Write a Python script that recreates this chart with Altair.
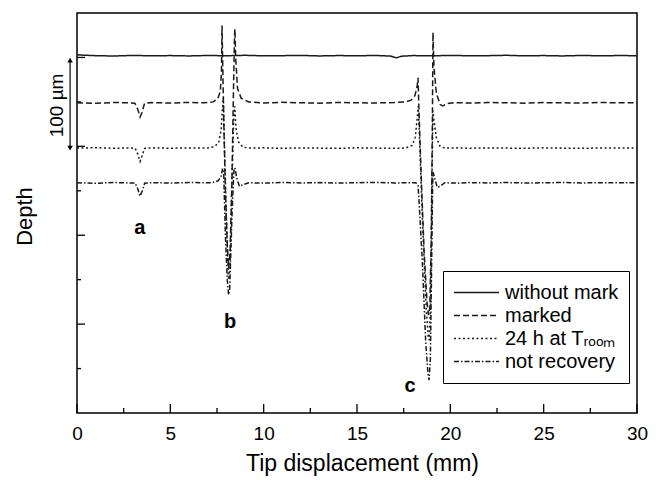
import altair as alt
import pandas as pd

FONT = "Liberation Sans"
INK = "#1a1a1a"

series_names = ["without mark", "marked", "24 h at Tᵣₒₒₘ", "not recovery"]

# ---- without mark (solid) ----
x_without = [0, 0.4, 1, 2, 3, 4, 5, 6, 7, 8, 9, 10, 11, 12, 13, 14, 15, 16, 16.8, 17.1, 17.4,
             18, 19, 20, 21, 22, 23, 24, 25, 26, 27, 28, 29, 30]
y_without = [403, 402.5, 402, 401.6, 402.3, 401.8, 402.1, 401.7, 402.2, 401.9, 402.4, 401.8, 402,
             402.3, 401.7, 402.1, 401.9, 402.2, 401.5, 399.6, 401.4, 402.1, 401.8, 402.3, 401.9,
             402, 402.4, 401.8, 402.1, 401.7, 402.2, 401.9, 402.1, 402]

# ---- marked (dashed) ----
x_marked = [0, 1.0, 2.0, 2.8, 3.1, 3.25, 3.38, 3.48, 3.62, 4.0, 5.0, 6.0, 6.8, 7.3, 7.55, 7.68,
            7.74, 7.77, 7.80, 7.86, 7.95, 8.05, 8.12, 8.2, 8.3, 8.38, 8.44, 8.46, 8.5, 8.6, 8.8,
            9.2, 10, 11, 12, 13, 14, 15, 16, 17, 17.6, 17.9, 18.1, 18.22, 18.27, 18.32, 18.45,
            18.6, 18.75, 18.83, 18.9, 18.98, 19.04, 19.07, 19.12, 19.25, 19.45, 19.6, 19.8, 20.2,
            21, 22, 23, 24, 25, 26, 27, 28, 29, 30]
y_marked = [349, 348.5, 349.3, 349, 348.6, 342, 333, 338, 348.5, 349.2, 348.7, 349.4, 349, 350,
            354, 362, 385, 436, 400, 330, 250, 190, 163, 180, 260, 360, 425, 432, 400, 365, 354,
            350, 348.8, 349.5, 349, 348.6, 349.3, 349, 348.8, 349.3, 350, 352, 357, 367, 377,
            340, 260, 180, 125, 110, 118, 200, 330, 428, 390, 360, 347, 345.5, 348, 349.2,
            348.7, 349.3, 349, 348.6, 349.2, 349, 348.7, 349.3, 349, 349]

# ---- 24 h at T_room (dotted) ----
x_24h = [0, 1, 2, 2.8, 3.12, 3.26, 3.38, 3.5, 3.62, 4, 5, 6, 7.0, 7.4, 7.6, 7.72, 7.8, 7.84,
         7.9, 8.0, 8.1, 8.14, 8.2, 8.3, 8.4, 8.45, 8.52, 8.65, 8.9, 9.3, 10, 11, 12, 13, 14, 15,
         16, 17, 17.6, 17.95, 18.12, 18.22, 18.28, 18.33, 18.5, 18.7, 18.82, 18.88, 18.95, 19.02,
         19.07, 19.12, 19.25, 19.45, 19.7, 20.5, 21, 22, 23, 24, 25, 26, 27, 28, 29, 30]
y_24h = [298, 298.4, 297.8, 298.2, 297.8, 291, 283, 290, 297.6, 298.3, 297.9, 298.2, 298, 300,
         305, 318, 345, 355, 300, 220, 155, 150, 170, 260, 335, 345, 320, 305, 299, 298, 298.3,
         297.8, 298.2, 298, 297.7, 298.3, 298, 297.9, 298, 301, 310, 330, 345, 320, 220, 120, 85,
         82, 130, 270, 340, 330, 310, 300, 298, 298.3, 297.9, 298.2, 298, 297.8, 298.3, 298,
         297.7, 298.2, 298, 298]

# ---- not recovery (dash-dot) ----
x_notrec = [0, 1, 2, 2.8, 3.12, 3.26, 3.38, 3.5, 3.62, 4, 5, 6, 7.2, 7.55, 7.72, 7.8, 7.86,
            7.95, 8.05, 8.12, 8.18, 8.3, 8.4, 8.46, 8.55, 8.7, 8.9, 9.2, 10, 11, 12, 13, 14, 15,
            16, 17, 17.8, 18.15, 18.27, 18.32, 18.5, 18.68, 18.8, 18.86, 18.93, 19.0, 19.05,
            19.08, 19.15, 19.3, 19.45, 19.7, 20.5, 21, 22, 23, 24, 25, 26, 27, 28, 29, 30]
y_notrec = [259, 258.5, 259.3, 258.8, 258.6, 252, 244, 250, 258.4, 259.2, 258.7, 259.3, 259, 261,
            266, 275, 270, 200, 150, 133, 140, 220, 272, 276, 265, 255, 257, 259, 258.6, 259.3,
            258.8, 259.2, 258.7, 259.1, 259.4, 258.8, 259, 259, 256, 240, 170, 80, 45, 37, 60,
            170, 255, 271, 265, 254, 255, 259, 258.6, 259.2, 258.8, 259.3, 258.7, 259, 259.3,
            258.8, 259.1, 258.9, 259]

# ---- tick positions ----
x_major_ticks = [0, 5, 10, 15, 20, 25, 30]
x_minor_ticks = [2.5, 7.5, 12.5, 17.5, 22.5, 27.5]
y_major_ticks = [100, 200, 300, 400]
y_minor_ticks = [50, 150, 250, 350]

# ---- annotations ----
label_text = ["a", "b", "c"]
label_x = [3.37, 8.2, 17.84]
label_y = [208, 102, 30]

scalebar_x = [-0.37]
scalebar_lo = [298]
scalebar_hi = [397]
scalebar_text = ["100 µm"]
scalebar_text_x = [-1.05]
scalebar_text_y = [346]

rows = []
for name, xs, ys in zip(series_names,
                        [x_without, x_marked, x_24h, x_notrec],
                        [y_without, y_marked, y_24h, y_notrec]):
    for i, (a, b) in enumerate(zip(xs, ys)):
        rows.append({"series": name, "x": a, "y": b, "i": i})
df = pd.DataFrame(rows)

xscale = alt.Scale(domain=[0, 30], nice=False, zero=False)
yscale = alt.Scale(domain=[0, 450], nice=False, zero=False)

x_axis = alt.Axis(title="Tip displacement (mm)", values=x_major_ticks, ticks=False,
                  tickSize=0, domain=False, grid=False, labelFontSize=19, labelFlush=False,
                  labelFont=FONT, labelColor="black", labelPadding=11,
                  titleFont=FONT, titleFontSize=23, titleFontWeight="normal",
                  titleColor="black", titlePadding=9, titleX=285)
y_axis = alt.Axis(title="Depth", labels=False, ticks=False, tickSize=0, domain=False,
                  grid=False, titleFont=FONT, titleFontSize=22,
                  titleFontWeight="normal", titleColor="black",
                  titleX=-53, titleY=203, titleBaseline="middle", titleAlign="center")


def X(field):
    return alt.X(field, scale=xscale, axis=x_axis, title="Tip displacement (mm)")


def Y(field):
    return alt.Y(field, scale=yscale, axis=y_axis, title="Depth")


lines = alt.Chart(df).mark_line(strokeWidth=1.5, color=INK, clip=True).encode(
    x=X("x:Q"),
    y=Y("y:Q"),
    strokeDash=alt.StrokeDash(
        "series:N",
        scale=alt.Scale(domain=series_names,
                        range=[[1, 0], [6, 3], [2, 2.5], [5, 2, 1.5, 2]]),
        legend=alt.Legend(title=None, orient="none", legendX=366, legendY=258,
                          strokeColor="black", fillColor="white", padding=10,
                          symbolType="stroke", symbolSize=2025, symbolStrokeWidth=1.3,
                          symbolStrokeColor=INK, labelFont=FONT, labelFontSize=20,
                          labelColor="black", labelOffset=5, rowPadding=0,
                          clipHeight=23, labelLimit=300)),
    order="i:Q",
)

xt_major = alt.Chart(pd.DataFrame({"x": x_major_ticks})).mark_rule(
    color="black", strokeWidth=1.3).encode(x=X("x:Q"), y=alt.value(400), y2=alt.value(391))
xt_minor = alt.Chart(pd.DataFrame({"x": x_minor_ticks})).mark_rule(
    color="black", strokeWidth=1.3).encode(x=X("x:Q"), y=alt.value(400), y2=alt.value(395))
yt_major = alt.Chart(pd.DataFrame({"y": y_major_ticks})).mark_rule(
    color="black", strokeWidth=1.3).encode(y=Y("y:Q"), x=alt.value(0), x2=alt.value(8))
yt_minor = alt.Chart(pd.DataFrame({"y": y_minor_ticks})).mark_rule(
    color="black", strokeWidth=1.3).encode(y=Y("y:Q"), x=alt.value(0), x2=alt.value(4))

labels = alt.Chart(pd.DataFrame({"t": label_text, "x": label_x, "y": label_y})).mark_text(
    font=FONT, fontSize=20, fontWeight="bold", color="black", baseline="middle",
    align="center").encode(x=X("x:Q"), y=Y("y:Q"), text="t:N")

sb_df = pd.DataFrame({"x": scalebar_x, "lo": scalebar_lo, "hi": scalebar_hi})
sb_rule = alt.Chart(sb_df).mark_rule(color="black", strokeWidth=1.2).encode(
    x=X("x:Q"), y=Y("lo:Q"), y2="hi:Q")
sb_up = alt.Chart(sb_df).mark_point(shape="triangle-up", filled=True, color="black",
                                    size=30, opacity=1).encode(x=X("x:Q"), y=Y("hi:Q"))
sb_down = alt.Chart(sb_df).mark_point(shape="triangle-down", filled=True, color="black",
                                      size=30, opacity=1).encode(x=X("x:Q"), y=Y("lo:Q"))
sb_text = alt.Chart(pd.DataFrame({"t": scalebar_text, "x": scalebar_text_x,
                                  "y": scalebar_text_y})).mark_text(
    font=FONT, fontSize=19, color="black", angle=270, baseline="middle",
    align="center").encode(x=X("x:Q"), y=Y("y:Q"), text="t:N")

chart = alt.layer(
    lines, xt_major, xt_minor, yt_major, yt_minor, labels, sb_rule, sb_up, sb_down, sb_text
).properties(
    width=560, height=400,
    autosize=alt.AutoSizeParams(type="none"),
    padding={"left": 77, "top": 13, "right": 23, "bottom": 67},
    background="white",
).configure_view(stroke="black", strokeWidth=1.5)

chart.save("out.html", embed_options={"renderer": "svg", "actions": False})
